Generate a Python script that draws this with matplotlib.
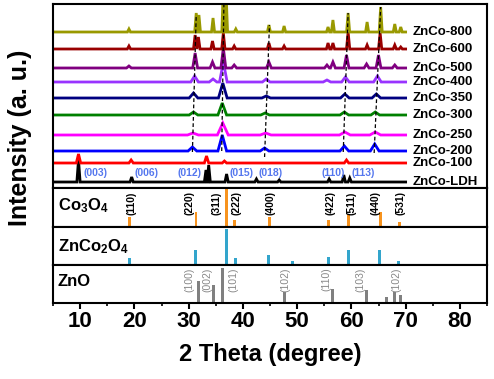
import numpy as np
import matplotlib.pyplot as plt
from matplotlib.ticker import MultipleLocator

plt.rcParams['font.family'] = ['Liberation Sans', 'DejaVu Sans']
plt.rcParams['mathtext.default'] = 'regular'

# ---- XRD traces, bottom to top (peak position in degrees, height in a.u.) ----
samples = ['ZnCo-LDH', 'ZnCo-100', 'ZnCo-200', 'ZnCo-250', 'ZnCo-300',
           'ZnCo-350', 'ZnCo-400', 'ZnCo-500', 'ZnCo-600', 'ZnCo-800']
baselines = [6, 25, 37, 53, 73, 90, 106, 120, 139, 156]

ldh_pos = [9.7, 19.5, 33.2, 33.7, 37.0, 42.5, 46.7, 55.9, 58.6, 59.7]
ldh_h = [22, 5, 12, 17, 8, 3, 2, 3, 7, 4]
s100_pos = [9.7, 19.4, 33.3, 36.6, 59.1]
s100_h = [9, 3, 7, 2, 3]
s200_pos = [30.7, 36.2, 44.0, 58.7, 64.3]
s200_h = [4, 16, 3, 5, 7]
s250_pos = [30.8, 36.3, 44.2, 58.8, 64.4]
s250_h = [2, 12, 2, 3, 3]
s300_pos = [30.9, 36.2, 44.1, 58.7, 64.4]
s300_h = [3, 12, 2, 3, 3]
s350_pos = [30.9, 36.3, 44.3, 58.8, 64.6]
s350_h = [5, 15, 2, 4, 4]
s400_pos = [31.1, 34.5, 36.4, 44.3, 55.5, 58.9, 64.8]
s400_h = [6, 3, 20, 3, 2, 5, 6]
s500_pos = [19.0, 31.2, 34.4, 36.4, 38.4, 44.8, 55.5, 56.6, 59.1, 62.8, 65.0, 68.0]
s500_h = [2, 15, 6, 20, 3, 6, 3, 6, 13, 4, 13, 3]
s600_pos = [19.0, 31.2, 31.8, 34.4, 36.4, 38.4, 44.8, 47.6, 55.7, 56.6, 59.4,
            62.9, 65.3, 68.0, 69.1]
s600_h = [3, 14, 12, 8, 16, 3, 6, 3, 6, 6, 17, 4, 16, 4, 2]
s800_pos = [19.0, 31.4, 31.9, 34.5, 36.4, 36.9, 38.7, 44.8, 47.6, 55.7, 56.6,
            59.4, 62.9, 65.4, 68.0, 69.1]
s800_h = [3, 19, 17, 14, 45, 40, 3, 7, 6, 5, 12, 19, 10, 25, 8, 5]

# LDH reflections
ldh_hkl = ['(003)', '(006)', '(012)', '(015)', '(018)', '(110)', '(113)']
ldh_hkl_x = [12.9, 22.3, 30.1, 39.7, 45.1, 56.6, 62.1]

# guide lines (bottom x, top x) for the spinel peaks
guide_x0 = [30.7, 36.1, 44.0, 58.5, 64.2]
guide_x1 = [31.4, 36.5, 44.9, 59.4, 65.4]
guide_y0 = [36, 37, 31, 36, 35]
guide_y1 = [173, 184, 163, 175, 181]

# reference cards
co3o4_pos = [19.07, 31.36, 36.9, 38.5, 44.87, 55.75, 59.4, 65.4, 68.8]
co3o4_int = [26, 38, 100, 18, 26, 18, 33, 38, 13]
co3o4_hkl = ['(110)', '(220)', '(311)', '(222)', '(400)', '(422)', '(511)', '(440)', '(531)']
co3o4_lab_x = [19.5, 30.1, 35.2, 38.9, 45.0, 56.1, 60.1, 64.4, 69.0]

zco_pos = [19.07, 31.3, 36.9, 38.6, 44.8, 49.06, 55.7, 59.4, 65.2, 68.7]
zco_int = [19, 39, 94, 18, 26, 10, 20, 39, 39, 11]

zno_pos = [31.8, 34.55, 36.3, 47.6, 56.6, 62.8, 66.5, 68.0, 69.1]
zno_int = [58, 47, 92, 30, 37, 34, 17, 30, 22]
zno_hkl = ['(100)', '(002)', '(101)', '(102)', '(110)', '(103)', '(102)']
zno_lab_x = [30.1, 33.4, 38.2, 47.8, 55.45, 61.6, 68.35]

traces = [(ldh_pos, ldh_h), (s100_pos, s100_h), (s200_pos, s200_h),
          (s250_pos, s250_h), (s300_pos, s300_h), (s350_pos, s350_h),
          (s400_pos, s400_h), (s500_pos, s500_h), (s600_pos, s600_h),
          (s800_pos, s800_h)]
colors = ['black', '#FF0000', '#0000FF', '#FF00FF', '#008000', '#000080',
          '#9933FF', '#800080', '#990000', '#999900']
peak_w = [0.3, 0.4, 0.8, 1.0, 0.8, 0.8, 0.7, 0.45, 0.3, 0.28]


def trace_xy(pos, h, base, w):
    xs, ys = [5.0], [base]
    for p, hh in zip(pos, h):
        xs += [p - w, p, p + w]
        ys += [base, base + hh, base]
    xs.append(70.0)
    ys.append(base)
    return xs, ys


fig = plt.figure(figsize=(4.94, 3.79), dpi=100)
left, width = 53 / 494, 434 / 494
ax_top = fig.add_axes([left, 1 - 188 / 379, width, 184 / 379])
ax_co = fig.add_axes([left, 1 - 227 / 379, width, 39 / 379])
ax_zco = fig.add_axes([left, 1 - 265 / 379, width, 38 / 379])
ax_zno = fig.add_axes([left, 1 - 303 / 379, width, 38 / 379])

for i, (pos, h) in enumerate(traces):
    xs, ys = trace_xy(pos, h, baselines[i], peak_w[i])
    ax_top.plot(xs, ys, color=colors[i], lw=2.0, solid_joinstyle='miter')
    ax_top.text(71.2, baselines[i], samples[i], fontsize=9.5, fontweight='bold',
                va='center', ha='left')

for x0, x1, y0, y1 in zip(guide_x0, guide_x1, guide_y0, guide_y1):
    ax_top.plot([x0, x1], [y0, y1], color='black', lw=0.9, ls=(0, (3, 2)))

for lab, x in zip(ldh_hkl, ldh_hkl_x):
    ax_top.text(x, 15, lab, color='#5577EE', fontsize=7.5, fontweight='bold',
                ha='center', va='center')

ax_top.set_ylim(0, 184)

ax_co.bar(co3o4_pos, co3o4_int, width=0.55, color='#F7931E')
for lab, x in zip(co3o4_hkl, co3o4_lab_x):
    ax_co.text(x, 62, lab, rotation=90, fontsize=7.5, fontweight='bold',
               ha='center', va='center')
ax_co.text(5.9, 56, r'Co$_3$O$_4$', fontsize=12, fontweight='bold',
           va='center', ha='left')

ax_zco.bar(zco_pos, zco_int, width=0.55, color='#33A5CC')
ax_zco.text(5.9, 48, r'ZnCo$_2$O$_4$', fontsize=12, fontweight='bold',
            va='center', ha='left')

ax_zno.bar(zno_pos, zno_int, width=0.55, color='#808080')
for lab, x in zip(zno_hkl, zno_lab_x):
    ax_zno.text(x, 62, lab, rotation=90, fontsize=7.5, color='#888888',
                ha='center', va='center')
ax_zno.text(5.9, 56, 'ZnO', fontsize=12, fontweight='bold',
            va='center', ha='left')

for ax in (ax_top, ax_co, ax_zco, ax_zno):
    ax.set_xlim(5, 85)
    for sp in ax.spines.values():
        sp.set_linewidth(1.5)
    if ax is not ax_top:
        ax.set_ylim(0, 100)
    ax.set_yticks([])
    if ax is not ax_zno:
        ax.set_xticks([])

ax_zno.xaxis.set_major_locator(MultipleLocator(10))
ax_zno.xaxis.set_minor_locator(MultipleLocator(5))
ax_zno.set_xticks(np.arange(10, 90, 10))
ax_zno.tick_params(axis='x', which='major', direction='out', length=4, width=1.5,
                   labelsize=16, pad=2)
ax_zno.tick_params(axis='x', which='minor', direction='out', length=2.5, width=1.2)
for t in ax_zno.get_xticklabels():
    t.set_fontweight('bold')

fig.text(0.04, 1 - 138 / 379, 'Intensity (a. u.)', rotation=90, fontsize=18,
         fontweight='bold', ha='center', va='center')
fig.text(270 / 494, 1 - 355 / 379, '2 Theta (degree)', fontsize=17,
         fontweight='bold', ha='center', va='center')

fig.savefig('out.png', dpi=100)
